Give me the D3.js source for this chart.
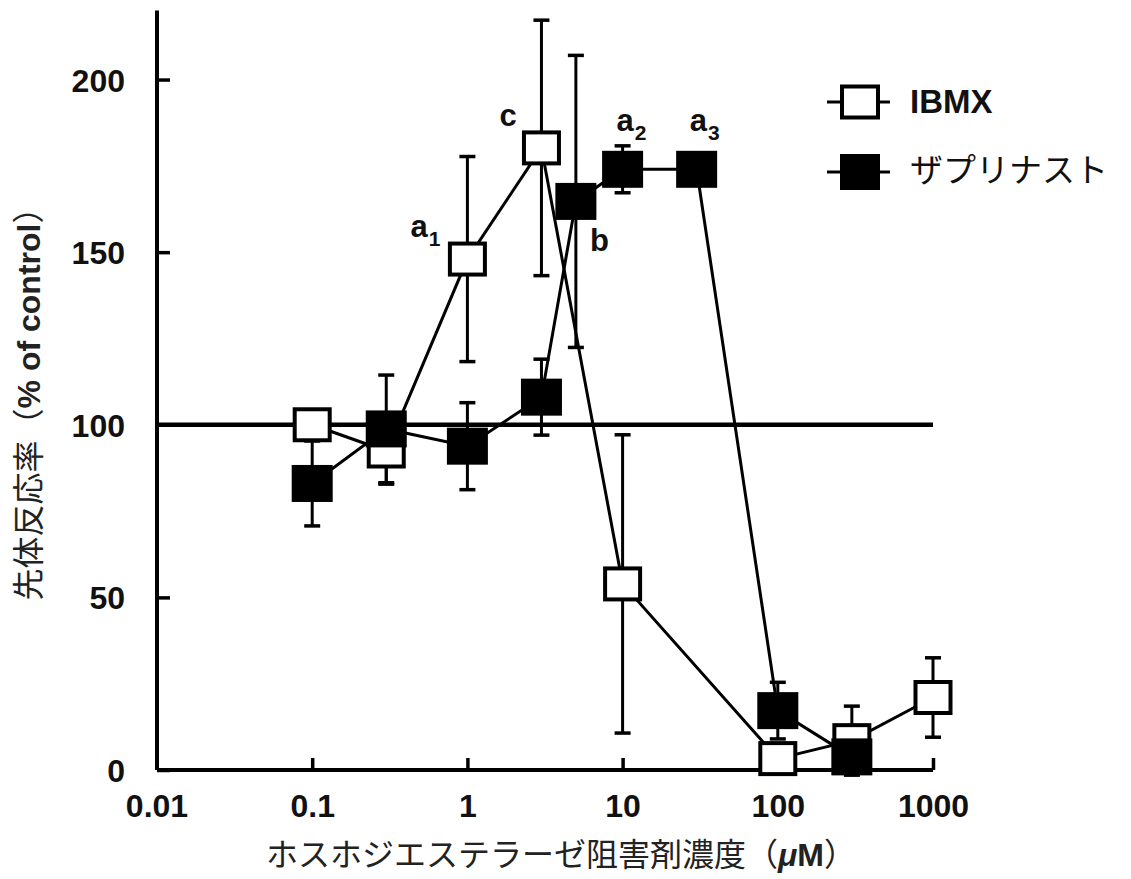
<!DOCTYPE html>
<html><head><meta charset="utf-8">
<script src="https://cdn.jsdelivr.net/npm/d3@7"></script>
<style>body{margin:0;background:#fff}</style>
</head><body>
<svg id="c" width="1131" height="879"></svg>
<script>
// ---- data ----
const ibmxX   = [0.1, 0.3, 1, 3, 10, 100, 300, 1000];
const ibmxY   = [100, 92.4, 148, 180.2, 53.9, 3.3, 8.5, 21];
const ibmxErr = [3, 9.6, 29.7, 37, 43.2, 2, 10, 11.5];
const zapX    = [0.1, 0.3, 1, 3, 5, 10, 30, 100, 300];
const zapY    = [83, 98.8, 93.8, 108, 164.7, 174, 174, 17.2, 3.8];
const zapErr  = [12.3, 15.6, 12.6, 11, 42.3, 6.8, 3, 8.2, 3];
const xTicks  = [0.01, 0.1, 1, 10, 100, 1000];
const xTickLabels = ["0.01", "0.1", "1", "10", "100", "1000"];
const yTicks  = [0, 50, 100, 150, 200];
const refValue = 100;
const annotations = [
  {t:"a", sub:"1", x:1,  y:148},
  {t:"c", sub:"",  x:3,  y:180.2},
  {t:"a", sub:"2", x:10, y:174},
  {t:"a", sub:"3", x:30, y:174},
  {t:"b", sub:"",  x:5,  y:164.7}
];
const annOffsets = [[-57,-22],[-42,-22],[-6,-38],[-7,-38],[14,50]];
const legendNames = ["IBMX", "ザプリナスト"];

// ---- scales ----
const svg = d3.select("#c");
const x = d3.scaleLog().domain([0.01, 1000]).range([157, 933]);
const y = d3.scaleLinear().domain([0, 220]).range([770, 10.5]);
const LAT = "'Liberation Sans', Arial, Helvetica, sans-serif";
const CJK = "'Noto Sans CJK JP', 'Noto Sans', sans-serif";

// reference line
svg.append("line").attr("x1", x(0.01)).attr("x2", x(1000))
  .attr("y1", y(refValue)).attr("y2", y(refValue))
  .attr("stroke", "#000").attr("stroke-width", 4.5);

// axes
const yAxis = svg.append("g").attr("transform", `translate(${x(0.01)},0)`)
  .call(d3.axisLeft(y).tickValues(yTicks).tickSize(-13).tickPadding(32).tickFormat(d3.format("d")));
const xAxis = svg.append("g").attr("transform", `translate(0,${y(0)})`)
  .call(d3.axisBottom(x).tickValues(xTicks.slice(1)).tickSize(-12).tickPadding(38)
        .tickFormat((d) => xTickLabels[xTicks.indexOf(d)]));
xAxis.append("text").attr("x", x(0.01)).attr("y", 47).attr("text-anchor","middle")
  .attr("fill","#000").text(xTickLabels[0]);
[yAxis, xAxis].forEach(g => {
  g.select(".domain").attr("stroke-width", 4).attr("stroke", "#000");
  g.selectAll(".tick line").attr("stroke-width", 3.5).attr("stroke", "#000");
  g.selectAll("text").attr("font-family", LAT).attr("font-weight", "bold")
    .attr("font-size", 32).attr("fill", "#111");
});
xAxis.selectAll("text").attr("dy", null);
xAxis.selectAll(".tick text").attr("y", 47);
yAxis.select(".domain").attr("d", `M0,${y(220)}V${y(0)}`);
xAxis.select(".domain").attr("d", `M${x(0.01)},0H${x(1000)}`);
yAxis.selectAll(".tick text").attr("dy", "0.36em");

const line = d3.line().x(d => x(d[0])).y(d => y(d[1]));
const series = [
  {xs: ibmxX, ys: ibmxY, es: ibmxErr, filled: false},
  {xs: zapX,  ys: zapY,  es: zapErr,  filled: true}
];
const gLines = svg.append("g"), gErr = svg.append("g"), gMarks = svg.append("g");
series.forEach(s => {
  const pts = s.xs.map((v, i) => [v, s.ys[i], s.es[i]]);
  gLines.append("path").attr("d", line(pts)).attr("fill", "none")
    .attr("stroke", "#000").attr("stroke-width", 3);
  pts.forEach(p => {
    const cx = x(p[0]);
    gErr.append("line").attr("x1", cx).attr("x2", cx)
      .attr("y1", y(p[1] - p[2])).attr("y2", y(p[1] + p[2]))
      .attr("stroke", "#000").attr("stroke-width", 3);
    [p[1] - p[2], p[1] + p[2]].forEach(v => {
      gErr.append("line").attr("x1", cx - 8).attr("x2", cx + 8)
        .attr("y1", y(v)).attr("y2", y(v))
        .attr("stroke", "#000").attr("stroke-width", 3.5);
    });
  });
  pts.forEach(p => {
    const cx = x(p[0]), cy = y(p[1]);
    if (s.filled) {
      gMarks.append("rect").attr("x", cx - 20.5).attr("y", cy - 18.5)
        .attr("width", 41).attr("height", 37).attr("fill", "#000");
    } else {
      gMarks.append("rect").attr("x", cx - 17.5).attr("y", cy - 15.5)
        .attr("width", 35).attr("height", 31).attr("fill", "#fff")
        .attr("stroke", "#000").attr("stroke-width", 4);
    }
  });
});

// annotations
annotations.forEach((a, i) => {
  const t = svg.append("text").attr("x", x(a.x) + annOffsets[i][0]).attr("y", y(a.y) + annOffsets[i][1])
    .attr("font-family", LAT).attr("font-weight", "bold").attr("font-size", 31).attr("fill", "#111");
  t.append("tspan").text(a.t);
  if (a.sub) t.append("tspan").attr("font-size", 21).attr("dx", 1).attr("dy", 9).text(a.sub);
});

// legend
const lg = svg.append("g");
[[102, false], [172, true]].forEach(([ly, filled], i) => {
  lg.append("line").attr("x1", 827).attr("x2", 890).attr("y1", ly).attr("y2", ly)
    .attr("stroke", "#000").attr("stroke-width", 3);
  if (filled) lg.append("rect").attr("x", 840).attr("y", ly - 18).attr("width", 40).attr("height", 36).attr("fill", "#000");
  else lg.append("rect").attr("x", 842).attr("y", ly - 15.5).attr("width", 36).attr("height", 31)
    .attr("fill", "#fff").attr("stroke", "#000").attr("stroke-width", 4);
  lg.append("text").attr("x", 910).attr("y", i === 0 ? 113 : 182)
    .attr("font-family", i === 0 ? LAT : CJK).attr("font-weight", i === 0 ? "bold" : "normal")
    .attr("font-size", 33).attr("fill", "#111").text(legendNames[i]);
});

// axis titles
const xt = svg.append("text").attr("x", 561).attr("y", 866).attr("text-anchor", "middle")
  .attr("font-family", CJK).attr("font-size", 32).attr("fill", "#222");
xt.append("tspan").text("ホスホジエステラーゼ阻害剤濃度（");
xt.append("tspan").attr("font-family", LAT).attr("font-weight", "bold").attr("font-style", "italic").text("μ");
xt.append("tspan").attr("font-family", LAT).attr("font-weight", "bold").text("M");
xt.append("tspan").text("）");

const yt = svg.append("text").attr("transform", "translate(40,396) rotate(-90)").attr("text-anchor", "middle")
  .attr("font-family", CJK).attr("font-size", 32).attr("fill", "#222");
yt.append("tspan").text("先体反応率（");
yt.append("tspan").attr("font-family", LAT).attr("font-weight", "bold").text("% of control");
yt.append("tspan").text("）");
</script>
</body></html>
